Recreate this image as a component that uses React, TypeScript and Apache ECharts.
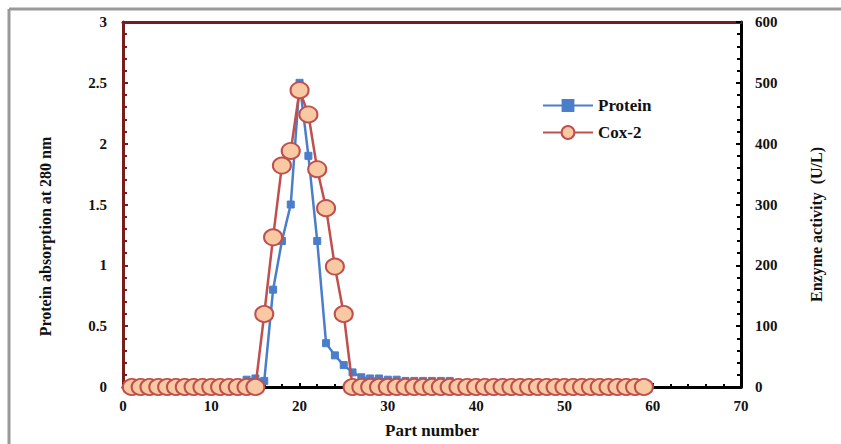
import React, { useEffect, useRef } from "react";
import * as echarts from "echarts";

const proteinX = [14, 15, 16, 17, 18, 19, 20, 21, 22, 23, 24, 25, 26, 27, 28, 29, 30, 31, 32, 33, 34, 35, 36, 37];
const proteinY = [0.06, 0.07, 0.05, 0.8, 1.2, 1.5, 2.5, 1.9, 1.2, 0.36, 0.26, 0.18, 0.12, 0.08, 0.07, 0.07, 0.06, 0.06, 0.05, 0.05, 0.05, 0.05, 0.05, 0.05];

const coxX = [
  1, 2, 3, 4, 5, 6, 7, 8, 9, 10, 11, 12, 13, 14, 15, 16, 17, 18, 19, 20, 21, 22, 23, 24, 25, 26, 27, 28, 29, 30,
  31, 32, 33, 34, 35, 36, 37, 38, 39, 40, 41, 42, 43, 44, 45, 46, 47, 48, 49, 50, 51, 52, 53, 54, 55, 56, 57, 58, 59,
];
const coxY = [
  0, 0, 0, 0, 0, 0, 0, 0, 0, 0, 0, 0, 0, 0, 0, 120, 246, 364, 388, 488, 448, 358, 294, 198, 120, 0, 0, 0, 0, 0,
  0, 0, 0, 0, 0, 0, 0, 0, 0, 0, 0, 0, 0, 0, 0, 0, 0, 0, 0, 0, 0, 0, 0, 0, 0, 0, 0, 0, 0,
];

const leftTicks = ["0", "0.5", "1", "1.5", "2", "2.5", "3"];
const rightTicks = ["0", "100", "200", "300", "400", "500", "600"];
const xTicks = ["0", "10", "20", "30", "40", "50", "60", "70"];

const FONT = "'Liberation Serif', 'Times New Roman', serif";
const DARKRED = "#7a1c1c";
const BLUE = "#4a7ecb";
const RED = "#c0504d";
const PEACH = "#f9c9a3";

export default function App() {
  const ref = useRef<HTMLDivElement>(null);
  useEffect(() => {
    if (!ref.current) return;
    const chart = echarts.init(ref.current, undefined, { renderer: "svg" });
    const labelStyle = { fontFamily: FONT, fontWeight: "bold" as const, fontSize: 15, color: "#111" };
    chart.setOption({
      animation: false,
      backgroundColor: "#ffffff",
      graphic: [
        { type: "line", shape: { x1: 9, y1: 9, x2: 841, y2: 9 }, style: { stroke: "#9a9a9a", lineWidth: 3 } },
        { type: "line", shape: { x1: 9, y1: 9, x2: 9, y2: 444 }, style: { stroke: "#9a9a9a", lineWidth: 3 } },
      ],
      grid: { left: 123, right: 100, top: 22, bottom: 53, containLabel: false },
      legend: {
        left: 537,
        top: 92,
        orient: "vertical",
        itemGap: 10,
        itemWidth: 50,
        itemHeight: 16,
        textStyle: { fontFamily: FONT, fontWeight: "bold", fontSize: 17, color: "#111" },
        data: ["Protein", "Cox-2"],
      },
      xAxis: [
        {
          type: "value",
          min: 0,
          max: 70,
          interval: 10,
          position: "bottom",
          name: "Part number",
          nameLocation: "middle",
          nameGap: 35,
          nameTextStyle: { ...labelStyle, fontSize: 17 },
          axisLine: { onZero: false, lineStyle: { color: "#000", width: 3 } },
          axisTick: { show: true, inside: true, length: 4, lineStyle: { color: "#000", width: 2 } },
          minorTick: { show: true, splitNumber: 5, length: 3, lineStyle: { color: "#000", width: 2 } },
          axisLabel: { ...labelStyle, margin: 11, formatter: (v: number) => xTicks[Math.round(v / 10)] ?? "" },
          splitLine: { show: false },
        },
        {
          type: "value",
          min: 0,
          max: 70,
          position: "top",
          axisLine: { onZero: false, lineStyle: { color: DARKRED, width: 3 } },
          axisTick: { show: false },
          axisLabel: { show: false },
          splitLine: { show: false },
        },
      ],
      yAxis: [
        {
          type: "value",
          min: 0,
          max: 3,
          interval: 0.5,
          position: "left",
          name: "Protein absorption at 280 nm",
          nameLocation: "middle",
          nameGap: 70,
          nameTextStyle: { ...labelStyle, fontSize: 16, padding: [0, 64, 0, 0] },
          axisLine: { show: true, onZero: false, lineStyle: { color: DARKRED, width: 3 } },
          axisTick: { show: true, inside: true, length: 5, lineStyle: { color: DARKRED, width: 2 } },
          minorTick: { show: true, splitNumber: 5, length: 4, lineStyle: { color: DARKRED, width: 2 } },
          axisLabel: { ...labelStyle, margin: 16, formatter: (v: number) => leftTicks[Math.round(v * 2)] ?? "" },
          splitLine: { show: false },
        },
        {
          type: "value",
          min: 0,
          max: 600,
          interval: 100,
          position: "right",
          name: "Enzyme activity  (U/L)",
          nameLocation: "middle",
          nameGap: 67,
          nameRotate: 90,
          nameTextStyle: { ...labelStyle, fontSize: 16, padding: [0, 40, 0, 0] },
          axisLine: { show: true, onZero: false, lineStyle: { color: "#000", width: 3 } },
          axisTick: { show: true, inside: true, length: 5, lineStyle: { color: "#000", width: 2 } },
          minorTick: { show: true, splitNumber: 5, length: 4, lineStyle: { color: "#000", width: 2 } },
          axisLabel: { ...labelStyle, margin: 14, formatter: (v: number) => rightTicks[Math.round(v / 100)] ?? "" },
          splitLine: { show: false },
        },
      ],
      series: [
        {
          name: "Protein",
          type: "line",
          xAxisIndex: 0,
          yAxisIndex: 0,
          data: proteinX.map((x, i) => [x, proteinY[i]]),
          symbol: "rect",
          symbolSize: 7,
          lineStyle: { color: BLUE, width: 2.5 },
          itemStyle: { color: BLUE, borderColor: BLUE },
          z: 2,
        },
        {
          name: "Cox-2",
          type: "line",
          xAxisIndex: 0,
          yAxisIndex: 1,
          data: coxX.map((x, i) => [x, coxY[i]]),
          symbol: "circle",
          symbolSize: [18, 16],
          showAllSymbol: true,
          lineStyle: { color: RED, width: 2.5 },
          itemStyle: { color: PEACH, borderColor: RED, borderWidth: 2, opacity: 1 },
          z: 3,
        },
      ],
    });
    return () => chart.dispose();
  }, []);
  return <div ref={ref} style={{ position: "absolute", left: 0, top: 0, width: 841, height: 444 }} />;
}
